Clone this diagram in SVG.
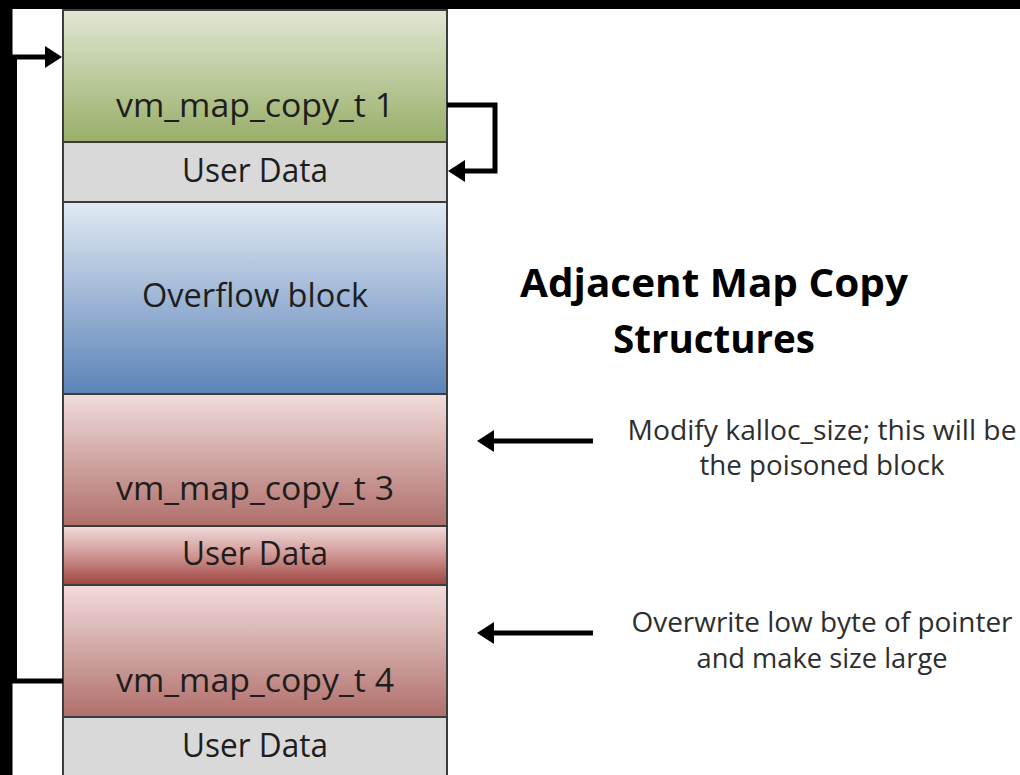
<svg xmlns="http://www.w3.org/2000/svg" width="1020" height="775" viewBox="0 0 1020 775">
<defs>
<linearGradient id="gGreen" x1="0" y1="0" x2="0" y2="1"><stop offset="0" stop-color="#e0e7d2"/><stop offset="1" stop-color="#99ae69"/></linearGradient>
<linearGradient id="gBlue" x1="0" y1="0" x2="0" y2="1"><stop offset="0" stop-color="#e1e9f4"/><stop offset="1" stop-color="#5c83b8"/></linearGradient>
<linearGradient id="gRed" x1="0" y1="0" x2="0" y2="1"><stop offset="0" stop-color="#f1dcdb"/><stop offset="1" stop-color="#b06f6b"/></linearGradient>
<linearGradient id="gRedUD" x1="0" y1="0" x2="0" y2="1"><stop offset="0" stop-color="#f1dcdb"/><stop offset="0.5" stop-color="#cf9592"/><stop offset="1" stop-color="#9e4440"/></linearGradient>
<marker id="arrow" viewBox="0 0 17 22" refX="7" refY="11" markerWidth="17" markerHeight="22" markerUnits="userSpaceOnUse" orient="auto">
<path d="M0,0 L17,11 L0,22 Z" fill="#000"/>
</marker>
<style>
.box{stroke:#3c3c3c;stroke-width:2}
.lbl{font-family:"Open Sans","Liberation Sans",sans-serif;font-size:32px;fill:#1e1e1e;text-anchor:middle}
.title{font-family:"Open Sans","Liberation Sans",sans-serif;font-size:40px;font-weight:bold;fill:#000;text-anchor:middle}
.note{font-family:"Open Sans","Liberation Sans",sans-serif;font-size:27px;fill:#2e2e2e;text-anchor:middle}
.conn{fill:none;stroke:#000;stroke-width:5;stroke-linejoin:miter;marker-end:url(#arrow)}
</style>
</defs>
<rect x="0" y="0" width="1020" height="775" fill="#fff"/>
<rect x="0" y="0" width="1020" height="9" fill="#000"/>
<rect x="0" y="0" width="12.5" height="775" fill="#000"/>

<g id="vm_map_copy_t1">
<rect class="box" x="63" y="10" width="384" height="132" fill="url(#gGreen)"/>
<text class="lbl" x="255" y="117" textLength="278" lengthAdjust="spacingAndGlyphs">vm_map_copy_t 1</text>
</g>
<g id="user_data1">
<rect class="box" x="63" y="142" width="384" height="60" fill="#d9d9d9"/>
<text class="lbl" x="255" y="182" textLength="146" lengthAdjust="spacingAndGlyphs">User Data</text>
</g>
<g id="overflow_block">
<rect class="box" x="63" y="202" width="384" height="192" fill="url(#gBlue)"/>
<text class="lbl" x="255" y="307" textLength="226" lengthAdjust="spacingAndGlyphs">Overflow block</text>
</g>
<g id="vm_map_copy_t3">
<rect class="box" x="63" y="394" width="384" height="132" fill="url(#gRed)"/>
<text class="lbl" x="255" y="500" textLength="278" lengthAdjust="spacingAndGlyphs">vm_map_copy_t 3</text>
</g>
<g id="user_data3">
<rect class="box" x="63" y="526" width="384" height="59" fill="url(#gRedUD)"/>
<text class="lbl" x="255" y="565" textLength="146" lengthAdjust="spacingAndGlyphs">User Data</text>
</g>
<g id="vm_map_copy_t4">
<rect class="box" x="63" y="585" width="384" height="132" fill="url(#gRed)"/>
<text class="lbl" x="255" y="692" textLength="278" lengthAdjust="spacingAndGlyphs">vm_map_copy_t 4</text>
</g>
<g id="user_data4">
<rect class="box" x="63" y="717" width="384" height="70" fill="#d9d9d9"/>
<text class="lbl" x="255" y="757" textLength="146" lengthAdjust="spacingAndGlyphs">User Data</text>
</g>

<g id="title">
<text class="title" x="714" y="297" textLength="388" lengthAdjust="spacingAndGlyphs">Adjacent Map Copy</text>
<text class="title" x="714" y="353" textLength="202" lengthAdjust="spacingAndGlyphs">Structures</text>
</g>
<g id="note1">
<text class="note" x="822" y="440" textLength="389" lengthAdjust="spacingAndGlyphs">Modify kalloc_size; this will be</text>
<text class="note" x="822" y="475" textLength="245" lengthAdjust="spacingAndGlyphs">the poisoned block</text>
</g>
<g id="note2">
<text class="note" x="822" y="632" textLength="381" lengthAdjust="spacingAndGlyphs">Overwrite low byte of pointer</text>
<text class="note" x="822" y="668" textLength="251" lengthAdjust="spacingAndGlyphs">and make size large</text>
</g>

<g id="connectors">
<path class="conn" d="M63,681 H14.5 V57 H52"/>
<path class="conn" d="M447,105 H495 V171 H458"/>
<path class="conn" d="M593,441 H487"/>
<path class="conn" d="M593,633 H487"/>
</g>
</svg>
